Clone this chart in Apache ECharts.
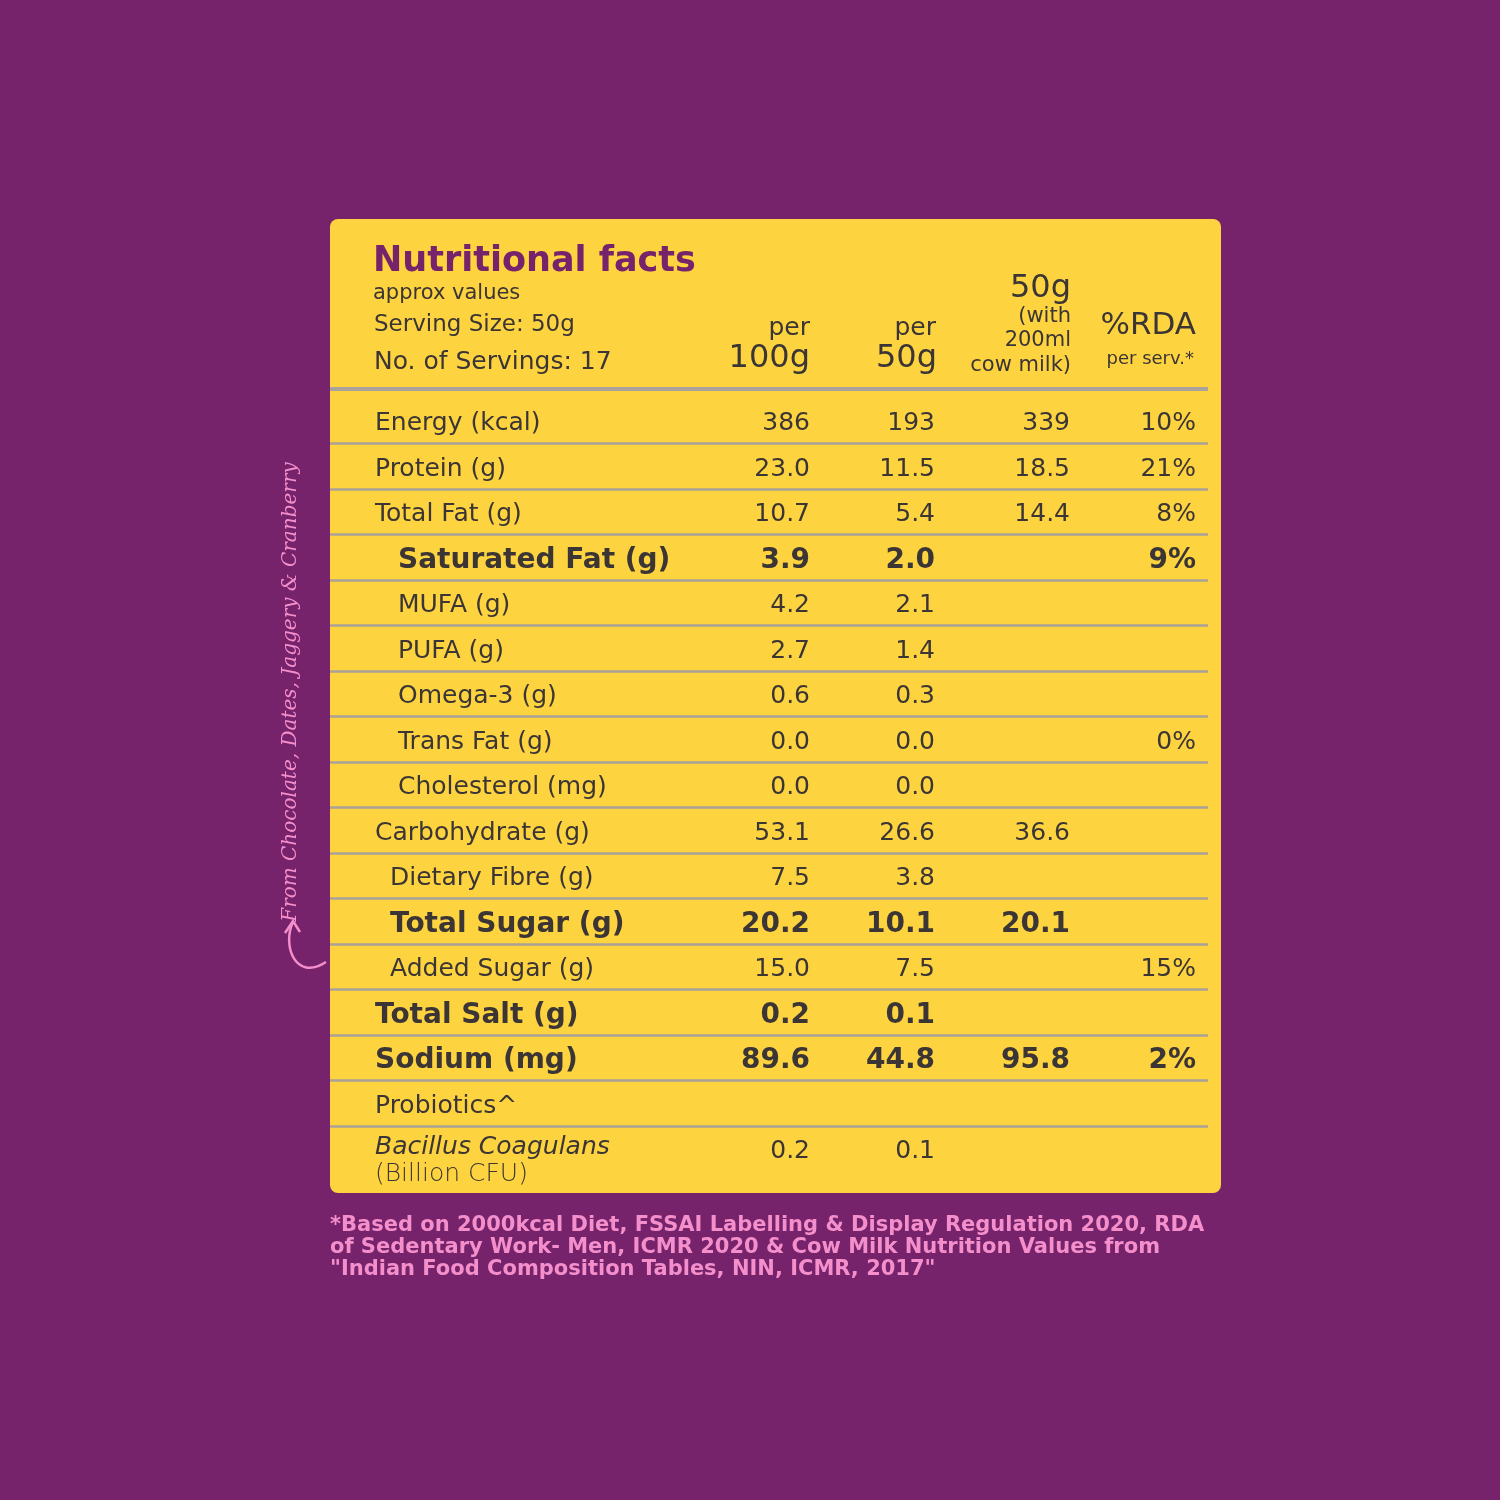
<!DOCTYPE html>
<html><head><meta charset="utf-8">
<script src="https://cdn.jsdelivr.net/npm/echarts@6/dist/echarts.min.js"></script>
<style>html,body{margin:0;padding:0;background:#76236c}#c{width:1500px;height:1500px}</style>
</head><body><div id="c"></div>
<script>
const rows = ['Energy (kcal)','Protein (g)','Total Fat (g)','Saturated Fat (g)','MUFA (g)','PUFA (g)','Omega-3 (g)','Trans Fat (g)','Cholesterol (mg)','Carbohydrate (g)','Dietary Fibre (g)','Total Sugar (g)','Added Sugar (g)','Total Salt (g)','Sodium (mg)','Probiotics^','Bacillus Coagulans'];
const per100g = ['386','23.0','10.7','3.9','4.2','2.7','0.6','0.0','0.0','53.1','7.5','20.2','15.0','0.2','89.6','','0.2'];
const per50g  = ['193','11.5','5.4','2.0','2.1','1.4','0.3','0.0','0.0','26.6','3.8','10.1','7.5','0.1','44.8','','0.1'];
const withMilk = ['339','18.5','14.4','','','','','','','36.6','','20.1','','','95.8','',''];
const rdaPct  = ['10%','21%','8%','9%','','','','0%','','','','','15%','','2%','',''];
const boldRows = ['Saturated Fat (g)','Total Sugar (g)','Total Salt (g)','Sodium (mg)'];
const indent2 = ['Saturated Fat (g)','MUFA (g)','PUFA (g)','Omega-3 (g)','Trans Fat (g)','Cholesterol (mg)'];
const indent1 = ['Dietary Fibre (g)','Total Sugar (g)','Added Sugar (g)'];

const F = '"DejaVu Sans", sans-serif';
const TXT = '#3b3535';
const cells = [];
rows.forEach((r,i)=>{
  cells.push([0,i,r]);
  [per100g,per50g,withMilk,rdaPct].forEach((arr,k)=>{ if(arr[i]) cells.push([k+1,i,arr[i]]); });
});
const colX = [375,810,935,1070,1196];

function renderItem(params, api){
  const c = api.value(0), ri = api.value(1);
  const name = rows[ri];
  const text = cells[params.dataIndex][2];
  const bold = boldRows.includes(name);
  let x = colX[c];
  if(c===0){ if(indent2.includes(name)) x=398; else if(indent1.includes(name)) x=390; }
  const p = api.coord([x, ri]);
  const size = bold ? 28 : 25;
  if(c===0 && name==='Bacillus Coagulans'){
    return {type:'group',children:[
      {type:'text',x:p[0],y:p[1]-1,style:{text:'Bacillus Coagulans',font:'oblique 300 25px '+F,fill:TXT,align:'left',verticalAlign:'middle'}},
      {type:'text',x:p[0],y:p[1]+26,style:{text:'(Billion CFU)',font:'300 25px '+F,fill:TXT,align:'left',verticalAlign:'middle'}}
    ]};
  }
  return {type:'text',x:p[0],y:p[1]+3,style:{text:text,font:(bold?'700 ':'400 ')+size+'px '+F,fill:TXT,align:c===0?'left':'right',verticalAlign:'middle'}};
}

const chart = echarts.init(document.getElementById('c'));
const g = [];
g.push({type:'rect',shape:{x:330,y:219,width:891,height:974,r:8},style:{fill:'#fdd43f'},z:-10});
g.push({type:'rect',shape:{x:330,y:387,width:878,height:4},style:{fill:'#a8a29a'}});
function t(text,x,y,font,align,fill){g.push({type:'text',x:x,y:y,style:{text:text,font:font,fill:fill||TXT,align:align||'left',verticalAlign:'middle'}});}
t('Nutritional facts',373,262,'900 35px '+F,'left','#76236c');
t('approx values',373,294,'400 21px '+F);
t('Serving Size: 50g',374,325,'400 23px '+F);
t('No. of Servings: 17',374,362,'400 25px '+F);
t('per',810,328,'400 25px '+F,'right');
t('100g',810,359,'400 32px '+F,'right');
t('per',936,328,'400 25px '+F,'right');
t('50g',937,359,'400 32px '+F,'right');
t('50g',1071,289,'400 32px '+F,'right');
t('(with',1071,317,'400 21px '+F,'right');
t('200ml',1071,341,'400 21px '+F,'right');
t('cow milk)',1071,366,'400 21px '+F,'right');
t('%RDA',1196,326,'400 31px '+F,'right');
t('per serv.*',1194,359,'400 18px '+F,'right');
const foot = ['*Based on 2000kcal Diet, FSSAI Labelling & Display Regulation 2020, RDA','of Sedentary Work- Men, ICMR 2020 & Cow Milk Nutrition Values from','"Indian Food Composition Tables, NIN, ICMR, 2017"'];
foot.forEach((s,i)=>t(s,330,1226+i*22,'700 21px '+F,'left','#f48fcb'));
g.push({type:'text',x:291,y:692,rotation:Math.PI/2,style:{text:'From Chocolate, Dates, Jaggery & Cranberry',font:'italic 500 20px "DejaVu Serif", serif',fill:'#f48fcb',align:'center',verticalAlign:'middle'}});
g.push({type:'bezierCurve',shape:{x1:326,y1:962,x2:293,y2:922,cpx1:295,cpy1:982,cpx2:282,cpy2:945},style:{stroke:'#f48fcb',lineWidth:2.5,fill:null}});
g.push({type:'polyline',shape:{points:[[285,933],[293,921],[300,932]]},style:{stroke:'#f48fcb',lineWidth:2.5,fill:null}});

chart.setOption({
  animation:false,
  backgroundColor:'#76236c',
  graphic:g,
  grid:{left:330,right:292,top:398,bottom:328.5},
  xAxis:{type:'value',min:330,max:1208,show:false},
  yAxis:{type:'category',data:rows,inverse:true,boundaryGap:true,
    axisLine:{show:false},axisTick:{show:false},axisLabel:{show:false},
    splitLine:{show:true,showMinLine:false,showMaxLine:false,lineStyle:{color:'#a8a29a',width:2.5}}},
  series:[{type:'custom',renderItem:renderItem,data:cells.map(d=>[d[0],d[1]]),z:5}]
});
</script></body></html>
